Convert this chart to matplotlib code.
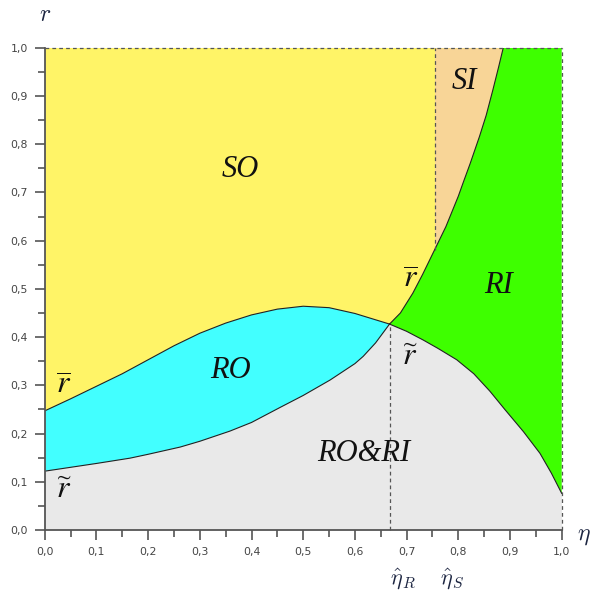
import numpy as np
import matplotlib
matplotlib.use("Agg")
import matplotlib.pyplot as plt

# boundary curves
eta_R = 0.667
eta_S = 0.754

# r-bar, left branch (SO / RO)
eta_bl = [0.0, 0.05, 0.10, 0.15, 0.20, 0.25, 0.30, 0.35, 0.40, 0.45, 0.50, 0.55, 0.60, 0.667]
r_bl   = [0.247, 0.272, 0.298, 0.324, 0.353, 0.382, 0.408, 0.429, 0.446, 0.458, 0.464, 0.461, 0.449, 0.427]

# r-tilde, left branch (RO / RO&RI)
eta_tl = [0.0, 0.05, 0.10, 0.165, 0.20, 0.262, 0.30, 0.358, 0.40, 0.455, 0.50, 0.552, 0.60, 0.616, 0.64, 0.667]
r_tl   = [0.122, 0.130, 0.138, 0.149, 0.157, 0.172, 0.184, 0.205, 0.223, 0.254, 0.279, 0.311, 0.345, 0.360, 0.388, 0.427]

# r-tilde, right branch (RO&RI / RI)
eta_tr = [0.667, 0.70, 0.732, 0.76, 0.797, 0.83, 0.861, 0.89, 0.926, 0.958, 0.98, 1.0]
r_tr   = [0.427, 0.412, 0.394, 0.377, 0.353, 0.324, 0.288, 0.250, 0.204, 0.159, 0.118, 0.076]

# r-bar, right branch (SO, SI / RI)
r_br   = [0.427, 0.45, 0.491, 0.53, 0.574, 0.629, 0.692, 0.719, 0.76, 0.816, 0.86, 0.913, 0.96, 1.0]
eta_br = [0.667, 0.688, 0.712, 0.731, 0.751, 0.776, 0.800, 0.809, 0.823, 0.841, 0.854, 0.867, 0.878, 0.887]

ticks = [0.0, 0.1, 0.2, 0.3, 0.4, 0.5, 0.6, 0.7, 0.8, 0.9, 1.0]
tick_labels = ["0,0", "0,1", "0,2", "0,3", "0,4", "0,5", "0,6", "0,7", "0,8", "0,9", "1,0"]

c_yellow = "#fff467"
c_cyan = "#42ffff"
c_gray = "#e9e9e9"
c_green = "#3eff00"
c_tan = "#f8d597"

fig = plt.figure(figsize=(5.93, 5.92), dpi=100)
ax = fig.add_axes([0.0754, 0.1047, 0.8718, 0.8147])
ax.set_xlim(0, 1)
ax.set_ylim(0, 1)
ax.set_facecolor(c_gray)

# regions
ax.fill(np.r_[0, eta_bl, eta_br], np.r_[1, r_bl, r_br], color=c_yellow, lw=0)
eb = np.array(eta_br)
ax.fill_betweenx(r_br, eta_S, eb, where=eb >= eta_S, interpolate=True, color=c_tan, lw=0)
ax.fill(np.r_[eta_br, 1, 1, eta_tr[::-1]], np.r_[r_br, 1, r_tr[-1], r_tr[::-1]], color=c_green, lw=0)
ax.fill(np.r_[eta_bl, eta_tl[::-1]], np.r_[r_bl, r_tl[::-1]], color=c_cyan, lw=0)

# boundary lines
for xs, ys in [(eta_bl, r_bl), (eta_tl, r_tl), (eta_tr, r_tr), (eta_br, r_br)]:
    ax.plot(xs, ys, color="#222222", lw=0.8)

dash = dict(color="#555555", lw=0.9, ls=(0, (3, 2.5)), clip_on=False)
r_cross = np.interp(eta_S, eta_br, r_br)
ax.plot([eta_R, eta_R], [0, r_bl[-1]], **dash)
ax.plot([eta_S, eta_S], [r_cross, 1], **dash)
ax.plot([0, 1], [1, 1], **dash)
ax.plot([1, 1], [0, 1], **dash)

# axes style
for s in ["top", "right"]:
    ax.spines[s].set_visible(False)
for s in ["left", "bottom"]:
    ax.spines[s].set_color("#555555")
    ax.spines[s].set_linewidth(1.3)
ax.set_xticks(ticks)
ax.set_xticklabels(tick_labels)
ax.set_yticks(ticks)
ax.set_yticklabels(tick_labels)
ax.set_xticks(np.arange(0.05, 1.0, 0.1), minor=True)
ax.set_yticks(np.arange(0.05, 1.0, 0.1), minor=True)
ax.tick_params(which="major", direction="out", length=7, width=1.2, color="#555555",
               labelsize=7.8, labelcolor="#444444", pad=5)
ax.tick_params(which="minor", direction="out", length=5, width=1.2, color="#555555")

# region labels
lab = dict(fontsize=22, family="Liberation Serif", style="italic", ha="center", va="center", color="#111111")
ax.text(0.378, 0.747, "SO", **lab)
ax.text(0.811, 0.93, "SI", **lab)
ax.text(0.877, 0.508, "RI", **lab)
ax.text(0.36, 0.33, "RO", **lab)
ax.text(0.618, 0.158, "RO&RI", **lab)

crv = dict(fontsize=23, ha="center", va="center", color="#111111", math_fontfamily="stix")
ax.text(0.707, 0.52, r"$\overline{r}$", **crv)
ax.text(0.707, 0.36, r"$\widetilde{r}$", **crv)
ax.text(0.036, 0.30, r"$\overline{r}$", **crv)
ax.text(0.036, 0.085, r"$\widetilde{r}$", **crv)

# axis names and hat labels
ax.text(0.0, 1.07, r"$r$", fontsize=17, ha="center", va="center", color="#1c2541",
        math_fontfamily="cm", clip_on=False)
ax.text(1.03, -0.01, r"$\eta$", fontsize=17, ha="left", va="center", color="#1c2541",
        math_fontfamily="cm", clip_on=False)
ax.text(0.692, -0.1, r"$\hat{\eta}_R$", fontsize=16, ha="center", va="center", color="#1c2541",
        math_fontfamily="cm", clip_on=False)
ax.text(0.788, -0.1, r"$\hat{\eta}_S$", fontsize=16, ha="center", va="center", color="#1c2541",
        math_fontfamily="cm", clip_on=False)

fig.savefig("out.png", dpi=100)
